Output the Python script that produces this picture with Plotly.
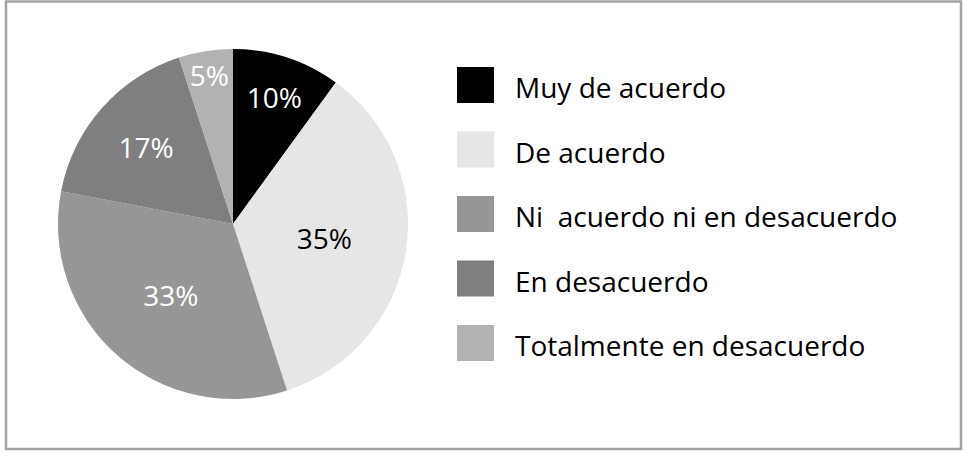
import plotly.graph_objects as go

# datos del gráfico
categorias = ["Muy de acuerdo", "De acuerdo", "Ni  acuerdo ni en desacuerdo",
              "En desacuerdo", "Totalmente en desacuerdo"]
porcentajes = [10, 35, 33, 17, 5]
colores = ["#000000", "#e6e6e6", "#969696", "#7f7f7f", "#b2b2b2"]
color_texto = ["white", "black", "white", "white", "white"]

W, H = 966, 454
FUENTE = "Open Sans"


def px_x(v):
    return v / W


def px_y(v):
    return 1 - v / H


fig = go.Figure()
fig.add_trace(go.Pie(
    labels=categorias,
    values=porcentajes,
    sort=False,
    direction="clockwise",
    rotation=0,
    marker=dict(colors=colores, line=dict(width=0)),
    texttemplate="%{value}%",
    textposition="inside",
    insidetextorientation="horizontal",
    textfont=dict(family=FUENTE, size=28, color=color_texto),
    domain=dict(x=[px_x(58), px_x(408)], y=[px_y(399), px_y(49)]),
    hoverinfo="label+percent",
    showlegend=False,
))

# leyenda manual (cuadros grandes como en el original)
shapes = [dict(type="rect", xref="paper", yref="paper",
               x0=px_x(6), x1=px_x(961), y0=px_y(449), y1=px_y(1.5),
               line=dict(color="#a3a3a3", width=2.5), fillcolor="rgba(0,0,0,0)")]
annotations = []
y0, paso = 67, 64.5
for i, (cat, col) in enumerate(zip(categorias, colores)):
    top = y0 + i * paso
    shapes.append(dict(type="rect", xref="paper", yref="paper",
                       x0=px_x(457), x1=px_x(494), y0=px_y(top + 36), y1=px_y(top),
                       line=dict(width=0), fillcolor=col))
    annotations.append(dict(xref="paper", yref="paper", x=px_x(513), y=px_y(top + 20),
                            text=cat, showarrow=False, xanchor="left", yanchor="middle",
                            font=dict(family=FUENTE, size=28, color="black")))

fig.update_layout(
    width=W, height=H,
    margin=dict(l=0, r=0, t=0, b=0),
    paper_bgcolor="white",
    uniformtext=dict(minsize=28, mode="show"),
    shapes=shapes,
    annotations=annotations,
)
# sin margen del body para que el gráfico ocupe la ventana completa
fig.write_html("out.html", config={"displayModeBar": False},
               post_script="document.body.style.margin='0';")
